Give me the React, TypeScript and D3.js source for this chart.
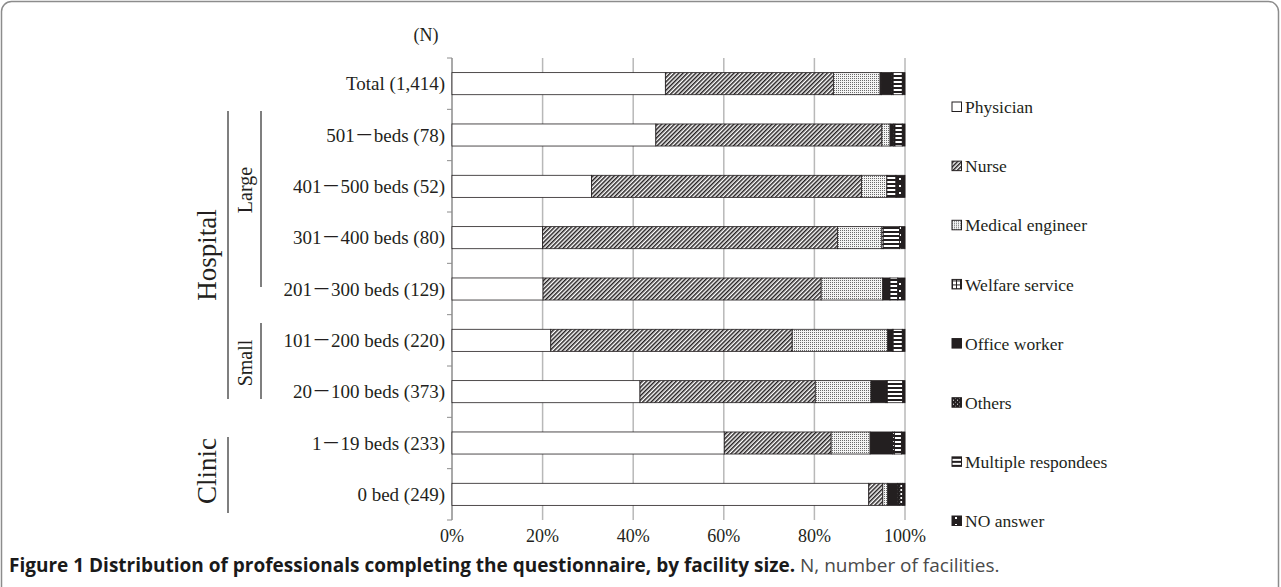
import { scaleBand, scaleLinear, stack } from 'd3';

const categories = [
  'Total (1,414)',
  '501－beds (78)',
  '401－500 beds (52)',
  '301－400 beds (80)',
  '201－300 beds (129)',
  '101－200 beds (220)',
  '20－100 beds (373)',
  '1－19 beds (233)',
  '0 bed (249)',
];

const seriesNames = [
  'Physician',
  'Nurse',
  'Medical engineer',
  'Welfare service',
  'Office worker',
  'Others',
  'Multiple respondees',
  'NO answer',
];

// percentage per category, in series order
const physician = [47.1, 45.0, 30.8, 20.0, 20.1, 21.8, 41.5, 60.1, 92.0];
const nurse = [37.1, 49.9, 59.6, 65.1, 61.4, 53.3, 38.7, 23.6, 3.1];
const medicalEngineer = [10.3, 1.8, 5.6, 9.8, 13.6, 21.1, 12.3, 8.6, 1.1];
const welfareService = [0.3, 0, 0, 0.3, 0, 0, 0, 0, 0];
const officeWorker = [2.2, 0.8, 0, 0, 1.6, 1.0, 3.3, 5.0, 2.2];
const others = [0.4, 0.3, 0, 0, 0, 0.2, 0.3, 0.4, 0.5];
const multipleRespondees = [2.0, 1.6, 2.0, 3.6, 1.7, 2.0, 3.4, 1.5, 0.6];
const noAnswer = [0.6, 0.6, 2.0, 1.2, 1.6, 0.6, 0.5, 0.8, 0.5];

const xTicks = [0, 20, 40, 60, 80, 100];

const seriesValues = [
  physician,
  nurse,
  medicalEngineer,
  welfareService,
  officeWorker,
  others,
  multipleRespondees,
  noAnswer,
];

const ink = '#231f20';

const fills = [
  '#ffffff',
  'url(#pNurse)',
  'url(#pMed)',
  'url(#pWelfare)',
  ink,
  'url(#pOthers)',
  'url(#pMultiple)',
  'url(#pNoAns)',
];

const serif = '"Liberation Serif", "Noto Sans CJK JP", serif';

export default function App() {
  const width = 1281;
  const height = 587;
  const plot = { left: 452, right: 905, top: 58, bottom: 520 };

  const rows = categories.map((c, i) => {
    const r: any = { name: c };
    seriesNames.forEach((s, j) => (r[s] = seriesValues[j][i]));
    return r;
  });
  const stacked = stack<any>().keys(seriesNames)(rows);

  const x = scaleLinear().domain([0, 100]).range([plot.left, plot.right]);
  const y = scaleBand()
    .domain(categories)
    .range([plot.top, plot.bottom])
    .paddingInner(0.57)
    .paddingOuter(0.285);
  const step = y.step();

  const legendY = scaleLinear().domain([0, seriesNames.length - 1]).range([107, 521]);

  return (
    <svg
      width={width}
      height={height}
      style={{ position: 'absolute', left: 0, top: 0, background: '#fff' }}
    >
      <defs>
        <pattern id="pNurse" width="3" height="3" patternUnits="userSpaceOnUse" patternTransform="rotate(45)">
          <rect width="3" height="3" fill="#fff" />
          <rect width="1.5" height="3" fill={ink} />
        </pattern>
        <pattern id="pMed" width="2" height="2" patternUnits="userSpaceOnUse">
          <rect width="2" height="2" fill="#f4f4f4" />
          <rect width="1" height="1" fill="#6a6a6a" />
        </pattern>
        <pattern id="pWelfare" width="4" height="4" patternUnits="userSpaceOnUse">
          <rect width="4" height="4" fill="#fff" />
          <rect width="4" height="1" fill={ink} />
          <rect width="1" height="4" fill={ink} />
        </pattern>
        <pattern id="pOthers" width="4" height="4" patternUnits="userSpaceOnUse">
          <rect width="4" height="4" fill={ink} />
          <rect x="1" y="1" width="1" height="1" fill="#fff" />
          <rect x="3" y="3" width="1" height="1" fill="#999" />
        </pattern>
        <pattern id="pMultiple" width="4" height="4" patternUnits="userSpaceOnUse">
          <rect width="4" height="4" fill={ink} />
          <rect y="1" width="4" height="2" fill="#fff" />
        </pattern>
        <pattern id="pNoAns" width="7" height="7" patternUnits="userSpaceOnUse">
          <rect width="7" height="7" fill={ink} />
          <rect x="3" y="3" width="2" height="2" fill="#fff" />
        </pattern>
      </defs>

      {/* figure frame */}
      <rect x={1.5} y={1.5} width={1277} height={640} rx={10} fill="none" stroke="#8c8c8c" strokeWidth={1.5} />

      {/* grid */}
      {xTicks.slice(1).map((t) => (
        <line key={t} x1={x(t)} x2={x(t)} y1={plot.top} y2={plot.bottom} stroke="#b8b8b8" strokeWidth={1.5} />
      ))}

      {/* left axis */}
      <line x1={plot.left} x2={plot.left} y1={plot.top} y2={plot.bottom} stroke="#8c8c8c" strokeWidth={1.5} />
      {categories.concat(['']).map((c, i) => (
        <line
          key={i}
          x1={plot.left - 5}
          x2={plot.left}
          y1={plot.top + i * step}
          y2={plot.top + i * step}
          stroke="#8c8c8c"
        />
      ))}

      {/* bars */}
      {stacked.map((layer, j) => (
        <g key={layer.key}>
          {layer.map((d, i) =>
            d[1] - d[0] > 0 ? (
              <rect
                key={i}
                x={x(d[0])}
                y={y(categories[i])}
                width={x(d[1]) - x(d[0])}
                height={y.bandwidth()}
                fill={fills[j]}
                stroke={ink}
                strokeWidth={0.8}
              />
            ) : null,
          )}
        </g>
      ))}

      {/* category labels */}
      {categories.map((c) => (
        <text
          key={c}
          x={plot.left - 7}
          y={(y(c) ?? 0) + y.bandwidth() / 2}
          dy="0.35em"
          textAnchor="end"
          fontFamily={serif}
          fontSize={19}
          fill={ink}
        >
          {c}
        </text>
      ))}

      {/* x tick labels */}
      {xTicks.map((t) => (
        <text key={t} x={x(t)} y={542} textAnchor="middle" fontFamily={serif} fontSize={18} fill={ink}>
          {t}%
        </text>
      ))}

      <text x={426} y={41} textAnchor="middle" fontFamily={serif} fontSize={18} fill={ink}>
        (N)
      </text>

      {/* group brackets */}
      <line x1={228} x2={228} y1={111} y2={399} stroke="#555" strokeWidth={1.5} />
      <line x1={261} x2={261} y1={111} y2={287} stroke="#555" strokeWidth={1.5} />
      <line x1={261} x2={261} y1={323} y2={399} stroke="#555" strokeWidth={1.5} />
      <line x1={228} x2={228} y1={437} y2={513} stroke="#555" strokeWidth={1.5} />
      <text transform="translate(216,255) rotate(-90)" textAnchor="middle" fontFamily={serif} fontSize={27} fill={ink}>
        Hospital
      </text>
      <text transform="translate(252,190) rotate(-90)" textAnchor="middle" fontFamily={serif} fontSize={20} fill={ink}>
        Large
      </text>
      <text transform="translate(252,363) rotate(-90)" textAnchor="middle" fontFamily={serif} fontSize={20} fill={ink}>
        Small
      </text>
      <text transform="translate(216,471) rotate(-90)" textAnchor="middle" fontFamily={serif} fontSize={27} fill={ink}>
        Clinic
      </text>

      {/* legend */}
      {seriesNames.map((s, j) => (
        <g key={s} transform={`translate(952,${legendY(j)})`}>
          <rect x={0} y={-5} width={9.5} height={9.5} fill={fills[j]} stroke={ink} strokeWidth={1} />
          <text x={13} y={0} dy="0.35em" fontFamily={serif} fontSize={17.5} fill={ink}>
            {s}
          </text>
        </g>
      ))}

      {/* caption */}
      <text x={9} y={572} fontFamily='"Open Sans", sans-serif' fontSize={19} fill="#1a1a1a">
        <tspan fontWeight="bold">Figure 1 Distribution of professionals completing the questionnaire, by facility size.</tspan>
        <tspan fill="#4a4a4a"> N, number of facilities.</tspan>
      </text>
    </svg>
  );
}
